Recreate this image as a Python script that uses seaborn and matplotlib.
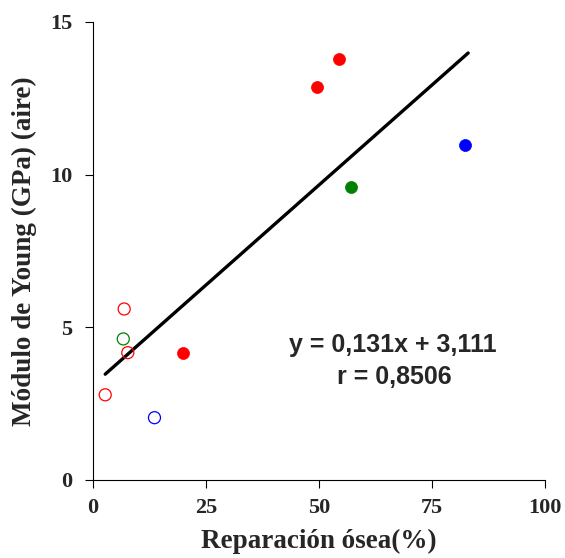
import matplotlib
matplotlib.use("Agg")
import matplotlib.pyplot as plt
import seaborn as sns
import pandas as pd

# Reparación ósea (%) vs módulo de Young (GPa)
x_abiertos = [2.7, 6.9, 6.7, 7.7, 13.6]
y_abiertos = [2.79, 5.6, 4.62, 4.17, 2.04]
c_abiertos = ["#FF0000", "#FF0000", "#008000", "#FF0000", "#0000FF"]

x_llenos = [20.0, 49.5, 54.5, 57.1, 82.4]
y_llenos = [4.16, 12.87, 13.8, 9.6, 10.96]
c_llenos = ["#FF0000", "#FF0000", "#FF0000", "#008000", "#0000FF"]

# Recta de regresión
pendiente = 0.131
ordenada = 3.111
recta_x = [2.7, 83.0]
r_valor = 0.8506

x_ticks = [0, 25, 50, 75, 100]
y_ticks = [0, 5, 10, 15]

sns.set_style("ticks")
plt.rcParams["font.family"] = ["Liberation Serif", "DejaVu Serif"]

fig = plt.figure(figsize=(5.65, 5.58), dpi=100)
ax = fig.add_axes([0.1646, 0.1398, 0.80, 0.8208])

df_ab = pd.DataFrame({"x": x_abiertos, "y": y_abiertos, "c": c_abiertos})
df_ll = pd.DataFrame({"x": x_llenos, "y": y_llenos, "c": c_llenos})

for col, sub in df_ab.groupby("c"):
    sns.scatterplot(data=sub, x="x", y="y", ax=ax, s=75, color=col,
                    facecolor="none", edgecolor=col, linewidth=0.9,
                    legend=False, zorder=3)
for col, sub in df_ll.groupby("c"):
    sns.scatterplot(data=sub, x="x", y="y", ax=ax, s=75, color=col,
                    edgecolor=col, linewidth=0.5, legend=False, zorder=3)

df_recta = pd.DataFrame({"x": recta_x,
                         "y": [pendiente * v + ordenada for v in recta_x]})
sns.lineplot(data=df_recta, x="x", y="y", ax=ax, color="black",
             linewidth=2.4, zorder=2)

ax.text(66.4, 4.43, f"y = {pendiente:.3f}x + {ordenada:.3f}".replace(".", ","),
        ha="center", va="center", fontsize=18, fontweight="bold",
        family=["Liberation Sans", "DejaVu Sans"])
ax.text(66.6, 3.38, f"r = {r_valor:.4f}".replace(".", ","),
        ha="center", va="center", fontsize=18, fontweight="bold",
        family=["Liberation Sans", "DejaVu Sans"])

ax.set_xlim(0, 100)
ax.set_ylim(0, 15)
ax.set_xticks(x_ticks)
ax.set_yticks(y_ticks)
ax.set_xticklabels([str(t) for t in x_ticks], fontsize=16, fontweight="bold")
ax.set_yticklabels([str(t) for t in y_ticks], fontsize=16, fontweight="bold")
ax.tick_params(axis="both", length=6, width=0.8, color="black")
ax.tick_params(axis="x", pad=7)
ax.tick_params(axis="y", pad=9)

ax.set_xlabel("Reparación ósea(%)", fontsize=19.5, fontweight="bold", labelpad=8)
ax.set_ylabel("Módulo de Young (GPa) (aire)", fontsize=19.5, fontweight="bold",
              labelpad=9)

for s in ["left", "bottom"]:
    ax.spines[s].set_linewidth(0.8)
    ax.spines[s].set_color("black")
sns.despine(ax=ax)

fig.savefig("out.png", dpi=100)
